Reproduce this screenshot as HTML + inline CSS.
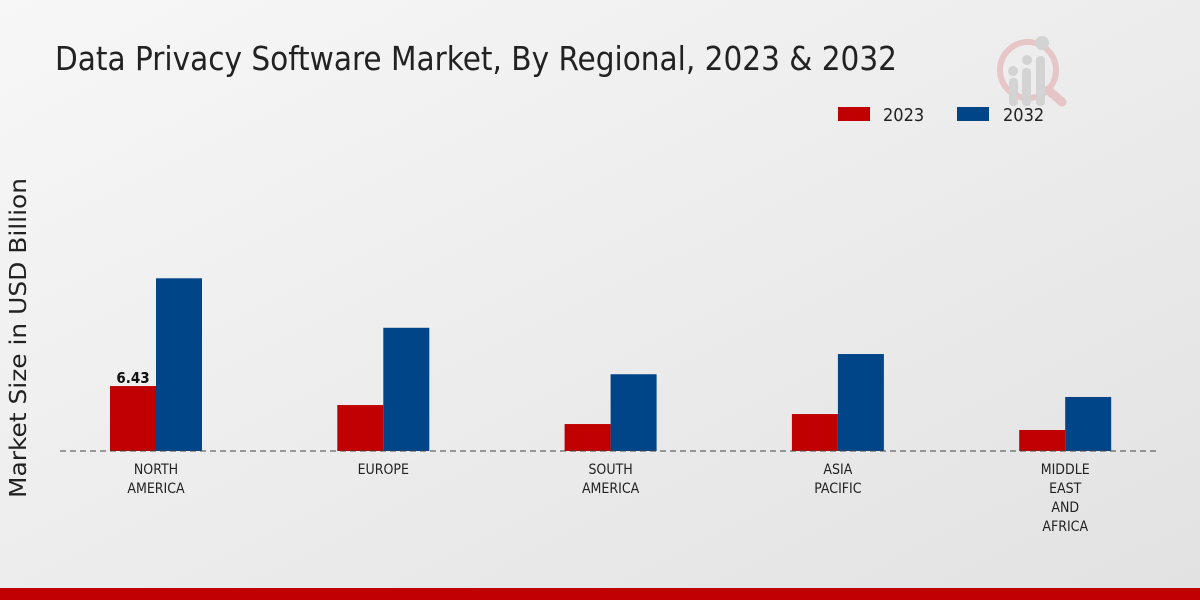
<!DOCTYPE html>
<html><head><meta charset="utf-8"><style>
html,body{margin:0;padding:0;}
body{width:1200px;height:600px;overflow:hidden;font-family:"Liberation Sans",sans-serif;}
</style></head><body>
<svg id="chart" width="1200" height="600" xmlns="http://www.w3.org/2000/svg">
<defs><linearGradient id="bg" x1="0" y1="0" x2="1" y2="1"><stop offset="0" stop-color="#f7f7f7"/><stop offset="1" stop-color="#e2e2e2"/></linearGradient></defs>
<rect width="1200" height="600" fill="url(#bg)"/>
<text x="55" y="70" font-family="DejaVu Sans Condensed, DejaVu Sans, sans-serif" font-size="33" fill="#222" textLength="842" lengthAdjust="spacingAndGlyphs">Data Privacy Software Market, By Regional, 2023 &amp; 2032</text>
<g opacity="0.5">
<circle cx="1028" cy="70" r="28" fill="none" stroke="#e0a0a0" stroke-width="6"/>
<line x1="1048" y1="90" x2="1062" y2="102" stroke="#e0a0a0" stroke-width="9" stroke-linecap="round"/>
<rect x="1009" y="78" width="9" height="28" rx="4" fill="#bbb"/>
<rect x="1022" y="68" width="9" height="38" rx="4" fill="#bbb"/>
<rect x="1036" y="56" width="9" height="50" rx="4" fill="#bbb"/>
<circle cx="1013" cy="71" r="5" fill="#bbb"/><circle cx="1027" cy="60" r="5" fill="#bbb"/><circle cx="1042" cy="43" r="7" fill="#bbb"/>
</g>
<g>
<rect x="838" y="107" width="32" height="14" fill="#c00000"/>
<text x="883" y="121" font-family="DejaVu Sans Condensed, DejaVu Sans, sans-serif" font-size="18" fill="#222">2023</text>
<rect x="957" y="107" width="32" height="14" fill="#004587"/>
<text x="1003" y="121" font-family="DejaVu Sans Condensed, DejaVu Sans, sans-serif" font-size="18" fill="#222">2032</text>
</g>
<text transform="translate(26,338) rotate(-90)" text-anchor="middle" font-family="DejaVu Sans, sans-serif" font-size="23" fill="#222" textLength="320" lengthAdjust="spacingAndGlyphs">Market Size in USD Billion</text>
<g id="bars"></g>
<line x1="60" y1="451" x2="1160" y2="451" stroke="#444" stroke-width="1" stroke-dasharray="6,4"/>
<g id="labels"></g>
<rect x="0" y="588" width="1200" height="12" fill="#c00000"/>
</svg>
<script>
const categories=[["NORTH","AMERICA"],["EUROPE"],["SOUTH","AMERICA"],["ASIA","PACIFIC"],["MIDDLE","EAST","AND","AFRICA"]];
const values2023=[6.43,4.55,2.67,3.66,2.08];
const values2032=[17.1,12.2,7.6,9.6,5.35];
const valueLabels=["6.43","","","",""];
const NS="http://www.w3.org/2000/svg";
const base=451, perUnit=10.1, x0=156, step=227.3, bw=46;
const yS=v=>base-v*perUnit;
const xC=i=>x0+i*step;
const bars=document.getElementById('bars'), labels=document.getElementById('labels');
function mk(t,a){const e=document.createElementNS(NS,t);for(const k in a)e.setAttribute(k,a[k]);return e;}
categories.forEach((c,i)=>{
  const cx=xC(i);
  const r=mk('rect',{x:cx-bw,y:yS(values2023[i]),width:bw,height:base-yS(values2023[i]),fill:'#c00000'});
  
  
  bars.appendChild(r);
  const b=mk('rect',{x:cx,y:yS(values2032[i]),width:bw,height:base-yS(values2032[i]),fill:'#004587'});
  
  
  bars.appendChild(b);
  if(valueLabels[i]){
    const t=mk('text',{x:cx-bw/2,y:yS(values2023[i])-3,'text-anchor':'middle','font-size':'15','font-weight':'bold','font-family':'DejaVu Sans Condensed, DejaVu Sans, sans-serif',fill:'#111'});
    t.textContent=valueLabels[i];
    
    
    bars.appendChild(t);
  }
  c.forEach((ln,j)=>{
    const t=mk('text',{x:cx,y:474+j*19,'text-anchor':'middle','font-size':'14','font-family':'DejaVu Sans Condensed, DejaVu Sans, sans-serif',fill:'#222'});
    t.textContent=ln;
    
    
    labels.appendChild(t);
  });
});
</script>
</body></html>
